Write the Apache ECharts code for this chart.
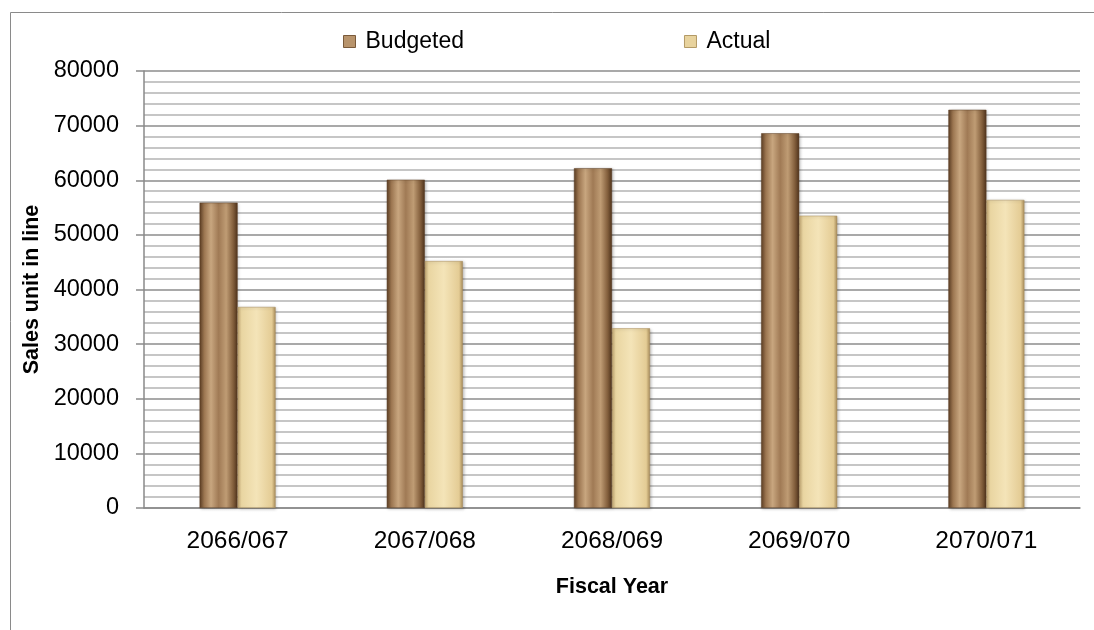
<!DOCTYPE html>
<html>
<head>
<meta charset="utf-8">
<script src="https://cdn.jsdelivr.net/npm/echarts@6/dist/echarts.min.js"></script>
<style>html,body{margin:0;padding:0;background:#fff;}#c{width:1094px;height:630px;}</style>
</head>
<body>
<div id="c"></div>
<script>
var categories = ['2066/067', '2067/068', '2068/069', '2069/070', '2070/071'];
var budgeted = [55900, 60100, 62200, 68600, 72900];
var actual = [36800, 45200, 32900, 53500, 56400];
var yTicks = { min: 0, max: 80000, interval: 10000 };

var chart = echarts.init(document.getElementById('c'));
var font = 'Liberation Sans';
var budgetColor = {
  type: 'linear', x: 0, y: 0, x2: 1, y2: 0,
  colorStops: [
    {offset: 0, color: '#5e3f24'}, {offset: 0.12, color: '#9b7550'},
    {offset: 0.3, color: '#c8a67f'}, {offset: 0.5, color: '#a07a55'},
    {offset: 0.7, color: '#bf9c74'}, {offset: 0.88, color: '#84603d'},
    {offset: 1, color: '#4f331c'}
  ]
};
var actualColor = {
  type: 'linear', x: 0, y: 0, x2: 1, y2: 0,
  colorStops: [
    {offset: 0, color: '#c2a672'}, {offset: 0.1, color: '#e9d5a1'},
    {offset: 0.5, color: '#f4e4b8'}, {offset: 0.9, color: '#e4cc95'},
    {offset: 1, color: '#a88c5a'}
  ]
};
chart.setOption({
  animation: false,
  backgroundColor: '#fff',
  graphic: [{
    type: 'rect', shape: {x: 10.5, y: 12.5, width: 1200, height: 800},
    style: {fill: 'none', stroke: '#8a8a8a', lineWidth: 1}, silent: true
  }],
  legend: {
    left: 338, top: 25, itemWidth: 12, itemHeight: 12, itemGap: 220, icon: 'rect',
    textStyle: {fontFamily: font, fontSize: 23, color: '#000', padding: [0, 0, 0, 5]},
    data: [
      {name: 'Budgeted', itemStyle: {color: '#b8946c', borderColor: '#7a5a3a', borderWidth: 1}},
      {name: 'Actual', itemStyle: {color: '#e8d39e', borderColor: '#b39a66', borderWidth: 1}}
    ]
  },
  grid: {left: 144, right: 14, top: 71, bottom: 122},
  xAxis: {
    type: 'category', data: categories,
    axisLine: {lineStyle: {color: '#8a8a8a', width: 1.5}},
    axisTick: {show: false},
    axisLabel: {fontFamily: font, fontSize: 24.5, color: '#000', margin: 21},
    name: 'Fiscal Year', nameLocation: 'middle', nameGap: 68,
    nameTextStyle: {fontFamily: font, fontSize: 21.5, fontWeight: 'bold', color: '#000'}
  },
  yAxis: {
    type: 'value', min: yTicks.min, max: yTicks.max, interval: yTicks.interval,
    axisLine: {show: true, lineStyle: {color: '#8a8a8a', width: 1.5}},
    axisTick: {show: true, length: 8, lineStyle: {color: '#8a8a8a', width: 1.5}},
    axisLabel: {fontFamily: font, fontSize: 23.5, color: '#000', margin: 25,
      formatter: function (v) { return String(v); }},
    splitLine: {lineStyle: {color: '#8c8c8c', width: 1.5}},
    minorTick: {show: false, splitNumber: 5},
    minorSplitLine: {show: true, lineStyle: {color: '#b4b4b4', width: 1.5}},
    name: 'Sales unit in line', nameLocation: 'middle', nameGap: 94, nameRotate: 90,
    nameTextStyle: {fontFamily: font, fontSize: 21.5, fontWeight: 'bold', color: '#000'}
  },
  series: [
    {
      name: 'Budgeted', type: 'bar', data: budgeted, barWidth: 38, barGap: '0%',
      itemStyle: {color: budgetColor, borderColor: '#5a3c22', borderWidth: 0.5,
        shadowColor: 'rgba(0,0,0,0.25)', shadowBlur: 3, shadowOffsetX: 1, shadowOffsetY: 1}
    },
    {
      name: 'Actual', type: 'bar', data: actual, barWidth: 38,
      itemStyle: {color: actualColor, borderColor: '#a88c5a', borderWidth: 0.5,
        shadowColor: 'rgba(0,0,0,0.25)', shadowBlur: 3, shadowOffsetX: 1, shadowOffsetY: 1}
    }
  ]
});
</script>
</body>
</html>
